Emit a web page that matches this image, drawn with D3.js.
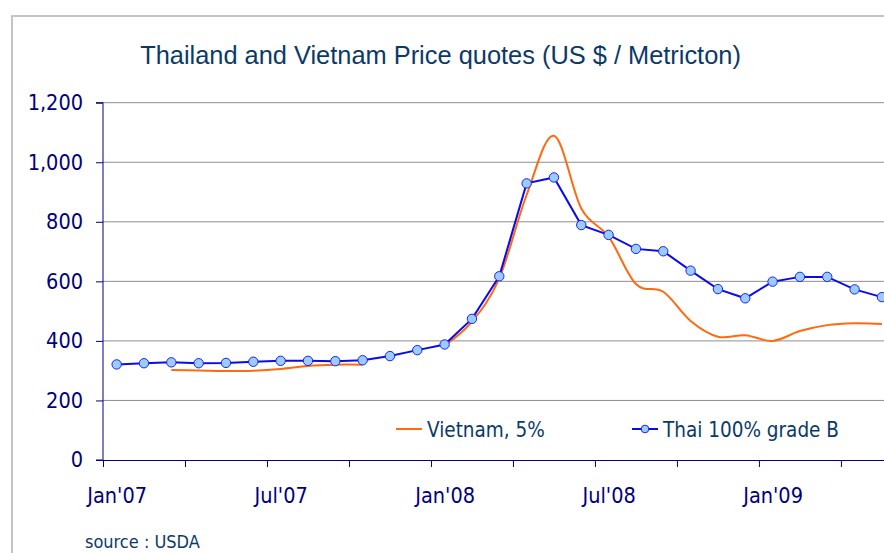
<!DOCTYPE html>
<html>
<head>
<meta charset="utf-8">
<script src="https://cdn.jsdelivr.net/npm/d3@7"></script>
<style>
  body { margin: 0; background: #fff; }
  svg { display: block; }
  .tick-font { font-family: "DejaVu Sans Condensed", "DejaVu Sans", sans-serif; font-stretch: condensed; }
</style>
</head>
<body>
<div id="d3-container"></div>
<script>
/* CONSTANTS AND GLOBALS */
const width = 884,
  height = 553,
  margin = { top: 102.7, bottom: 93, left: 103, right: -12 },
  navy = "#000080",
  textBlue = "#0b3a6a";

/* DATA */
const months = [
  "Jan'07", "Feb'07", "Mar'07", "Apr'07", "May'07", "Jun'07", "Jul'07", "Aug'07", "Sep'07", "Oct'07", "Nov'07", "Dec'07",
  "Jan'08", "Feb'08", "Mar'08", "Apr'08", "May'08", "Jun'08", "Jul'08", "Aug'08", "Sep'08", "Oct'08", "Nov'08", "Dec'08",
  "Jan'09", "Feb'09", "Mar'09", "Apr'09", "May'09"
];
// Thai 100% grade B, monthly
const thai = [
  321, 325, 328, 325, 326, 330, 333, 333, 332, 335, 349, 369,
  388, 474, 617, 929, 949, 789, 756, 709, 701, 636, 574, 543,
  599, 615, 615, 573, 547
];
// Vietnam 5%, monthly (no quotes Jan-Feb'07, Nov-Dec'07)
const vietnam = [
  null, null, 302, 301, 299, 300, 306, 316, 320, 320, null, null,
  385, 465, 610, 890, 1089, 845, 750, 591, 565, 467, 414, 419,
  400, 433, 453, 459, 457
];
const yTicks = [0, 200, 400, 600, 800, 1000, 1200];
const xTickLabels = ["Jan'07", "Jul'07", "Jan'08", "Jul'08", "Jan'09"];
const seriesNames = ["Vietnam, 5%", "Thai 100% grade B"];

/* SVG */
const svg = d3
  .select("#d3-container")
  .append("svg")
  .attr("width", width)
  .attr("height", height);

// outer frame
svg.append("path")
  .attr("d", `M12,${height} V16 H${width}`)
  .attr("fill", "none")
  .attr("stroke", "#c4c4c4")
  .attr("stroke-width", 2);

/* SCALES */
const monthW = 27.33;
const xScale = d3
  .scaleLinear()
  .domain([0, months.length])
  .range([margin.left, margin.left + months.length * monthW]);

const yScale = d3
  .scaleLinear()
  .domain([0, 1200])
  .range([460, margin.top]);

/* GRIDLINES */
svg.append("g")
  .selectAll("line")
  .data(yTicks.slice(1))
  .join("line")
  .attr("x1", margin.left)
  .attr("x2", xScale(months.length))
  .attr("y1", d => yScale(d))
  .attr("y2", d => yScale(d))
  .attr("stroke", "#8e8e8e")
  .attr("stroke-width", 1);

/* AXES */
const yAxis = d3.axisLeft(yScale)
  .tickValues(yTicks)
  .tickFormat(d3.format(","))
  .tickSize(7)
  .tickPadding(13);

const yG = svg.append("g")
  .attr("transform", `translate(${margin.left},0)`)
  .call(yAxis);
yG.select(".domain").attr("stroke", navy).attr("d", `M-7,${yScale(1200)}H0V460H-7`);

// tick marks on quarter boundaries
const xAxisTicks = d3.axisBottom(xScale)
  .tickValues(d3.range(0, months.length, 3))
  .tickFormat("")
  .tickSize(7)
  .tickSizeOuter(0);

const xG = svg.append("g")
  .attr("transform", "translate(0,460)")
  .call(xAxisTicks);
xG.select(".domain").attr("stroke", navy);

// labels centred on the month
const xAxisLabels = d3.axisBottom(xScale)
  .tickValues(xTickLabels.map(l => months.indexOf(l) + 0.5))
  .tickFormat(d => months[Math.floor(d)])
  .tickSize(0)
  .tickPadding(28);

const xL = svg.append("g")
  .attr("transform", "translate(0,460)")
  .call(xAxisLabels);
xL.select(".domain").remove();

svg.selectAll(".tick line").attr("stroke", navy);
[yG, xL].forEach(g => g.selectAll("text")
  .attr("class", "tick-font")
  .attr("font-size", 21.5)
  .attr("fill", navy));

/* LINES */
const vietLine = d3.line()
  .defined(d => d != null)
  .x((d, i) => xScale(i + 0.5))
  .y(d => yScale(d))
  .curve(d3.curveCardinal.tension(0));

svg.append("path")
  .datum(vietnam)
  .attr("d", vietLine)
  .attr("fill", "none")
  .attr("stroke", "#ff6a0f")
  .attr("stroke-width", 2);

const thaiLine = d3.line()
  .x((d, i) => xScale(i + 0.5))
  .y(d => yScale(d));

svg.append("path")
  .datum(thai)
  .attr("d", thaiLine)
  .attr("fill", "none")
  .attr("stroke", "#0a0af0")
  .attr("stroke-width", 2);

svg.append("g")
  .selectAll("circle")
  .data(thai)
  .join("circle")
  .attr("cx", (d, i) => xScale(i + 0.5))
  .attr("cy", d => yScale(d))
  .attr("r", 4.7)
  .attr("fill", "#99ccff")
  .attr("stroke", "#2020f0")
  .attr("stroke-width", 1);

/* LEGEND */
const legend = svg.append("g").attr("transform", "translate(0,429)");
const legendX = [396, 632];
const items = legend.selectAll("g")
  .data(seriesNames)
  .join("g")
  .attr("transform", (d, i) => `translate(${legendX[i]},0)`);

items.append("line")
  .attr("x1", 0)
  .attr("x2", 26)
  .attr("stroke", (d, i) => i === 0 ? "#ff6a0f" : "#0a0af0")
  .attr("stroke-width", 2);

items.filter((d, i) => i === 1)
  .append("circle")
  .attr("cx", 13)
  .attr("r", 3.8)
  .attr("fill", "#99ccff")
  .attr("stroke", "#2020f0");

items.append("text")
  .attr("class", "tick-font")
  .attr("x", 31)
  .attr("y", 7.5)
  .attr("font-size", 20.5)
  .attr("fill", textBlue)
  .text(d => d);

/* TITLE AND SOURCE */
svg.append("text")
  .attr("x", 440.5)
  .attr("y", 63.5)
  .attr("text-anchor", "middle")
  .attr("font-family", "'Liberation Sans', Arial, sans-serif")
  .attr("font-size", 25.4)
  .attr("fill", textBlue)
  .text("Thailand and Vietnam Price quotes (US $ / Metricton)");

svg.append("text")
  .attr("class", "tick-font")
  .attr("x", 85)
  .attr("y", 548)
  .attr("font-size", 18)
  .attr("fill", textBlue)
  .text("source : USDA");
</script>
</body>
</html>
